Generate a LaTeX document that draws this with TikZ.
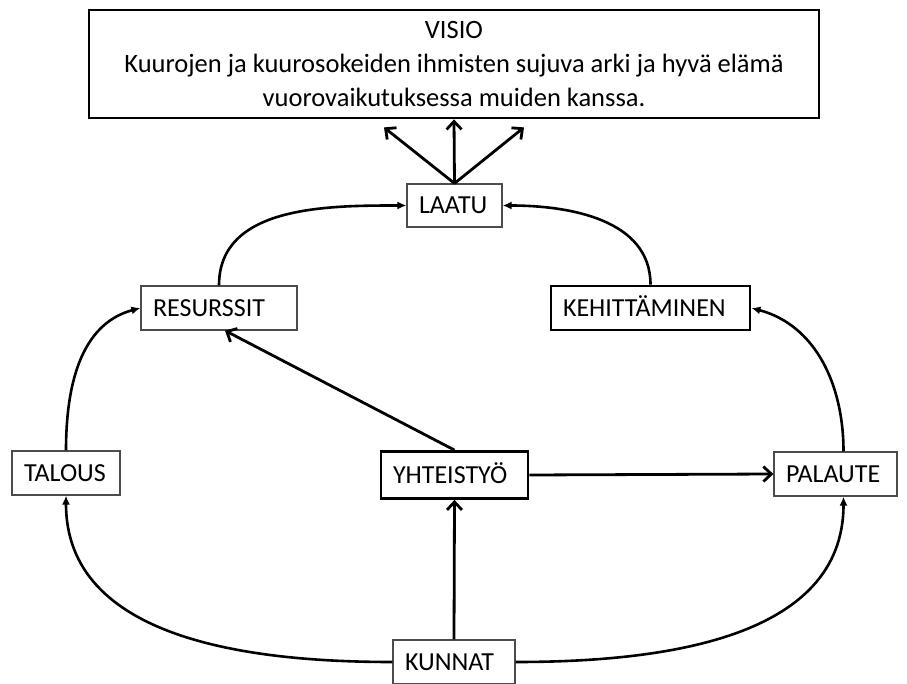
\documentclass[tikz,border=0pt]{standalone}
\usepackage{fontspec}
\setmainfont{Carlito}
\usetikzlibrary{arrows.meta}

\begin{document}
\begin{tikzpicture}[x=1pt,y=-1pt,
    box/.style={draw=black!70, line width=1.2pt, minimum height=44pt, inner xsep=12pt, inner ysep=0pt,
        text height=17pt, text depth=0pt, align=left, font=\fontsize{26}{30}\selectfont},
    boldbox/.style={box, draw=black, line width=2.8pt},
    curve/.style={line width=2.6pt, -{Latex[length=9pt,width=8pt]}},
    straight/.style={line width=2.8pt, -{Straight Barb[length=8pt,width=15pt,line width=2.8pt]}}]
    \useasboundingbox (0,0) rectangle (907,684);

    \node[draw, line width=2.8pt, minimum width=730pt, minimum height=108pt, align=center,
        font=\fontsize{26.5}{34}\selectfont] (visio) at (454,64)
        {VISIO\\Kuurojen ja kuurosokeiden ihmisten sujuva arki ja hyvä elämä\\vuorovaikutuksessa muiden kanssa.};

    \node[box, text width=71pt, minimum height=43pt] (laatu) at (454.5,205.5) {LAATU};
    \node[box, text width=132pt] (resurssit) at (219,308) {RESURSSIT};
    \node[boldbox, text width=175pt] (kehittaminen) at (650.5,308) {KEHITTÄMINEN};
    \node[box, text width=84pt] (talous) at (66,473) {TALOUS};
    \node[boldbox, text width=123pt, minimum height=47pt] (yhteistyo) at (454.5,475) {YHTEISTYÖ};
    \node[box, text width=99pt] (palaute) at (835.5,474) {PALAUTE};
    \node[box, text width=98pt] (kunnat) at (454,662) {KUNNAT};

    % laatu kohti visiota
    \coordinate (vl) at ([xshift=-70pt,yshift=-8pt]visio.south);
    \coordinate (vr) at ([xshift=70pt,yshift=-8pt]visio.south);
    \draw[straight] (laatu.north) -- (vl);
    \draw[straight] (laatu.north) -- (visio.south);
    \draw[straight] (laatu.north) -- (vr);

    \draw[curve] (resurssit.north) to[out=90,in=180] (laatu.west);
    \draw[curve] (kehittaminen.north) to[out=90,in=0] (laatu.east);
    \draw[curve] (talous.north) to[out=90,in=195] (resurssit.west);
    \draw[curve] ([xshift=8pt]palaute.north) to[out=90,in=-15] (kehittaminen.east);
    \draw[curve] (kunnat.west) to[out=180,in=-90] (talous.south);
    \draw[curve] (kunnat.east) to[out=0,in=-90] ([xshift=8pt]palaute.south);

    \draw[straight] (kunnat.north) -- (yhteistyo.south);
    \draw[straight] (yhteistyo.north) -- ([xshift=6pt]resurssit.south);
    \draw[straight] (yhteistyo.east) -- (palaute.west);
\end{tikzpicture}
\end{document}
